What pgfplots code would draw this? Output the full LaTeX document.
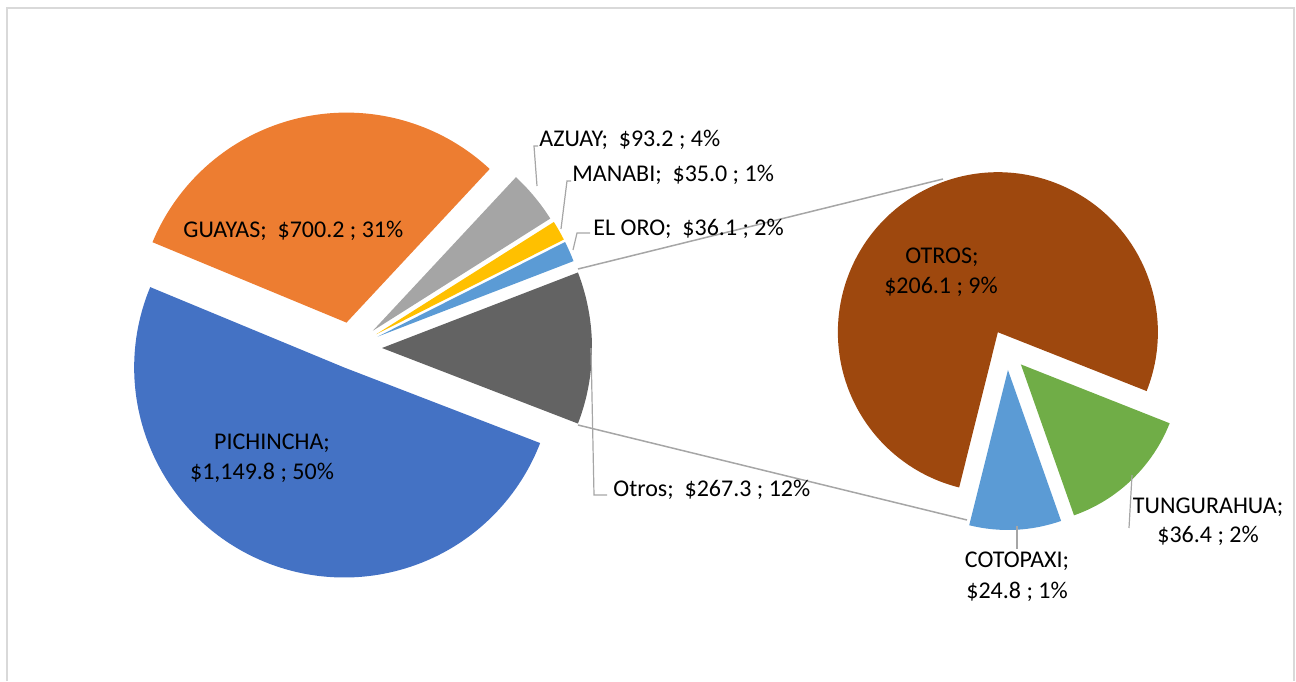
\documentclass[border=0pt]{standalone}
\usepackage{pgfplots}
\usepackage{pgfplotstable}
\pgfplotsset{compat=1.18}
\usepackage{fontspec}
\setmainfont{Carlito}

\definecolor{cPich}{HTML}{4472C4}
\definecolor{cGuay}{HTML}{ED7D31}
\definecolor{cAzua}{HTML}{A5A5A5}
\definecolor{cMana}{HTML}{FFC000}
\definecolor{cOro}{HTML}{5B9BD5}
\definecolor{cOtros}{HTML}{636363}
\definecolor{cBrown}{HTML}{9E480E}
\definecolor{cTung}{HTML}{70AD47}
\definecolor{cCoto}{HTML}{5B9BD5}
\definecolor{leader}{HTML}{A6A6A6}
\definecolor{frame}{HTML}{D9D9D9}

% main pie, counterclockwise from the aggregated slice
\pgfplotstableread{
label     value  explode color
Otros     267.3  30      cOtros
ElOro     36.1   28      cOro
Manabi    35.0   28      cMana
Azuay     93.2   27      cAzua
Guayas    700.2  26      cGuay
Pichincha 1149.8 21      cPich
}\maintable

% second pie (split of Otros)
\pgfplotstableread{
label      value explode color
Cotopaxi   24.8  20      cCoto
Tungurahua 36.4  20      cTung
OTROS      206.1 20      cBrown
}\subtable

% angles from the values: #1 table, #2 prefix, #3 last row, #4 start angle
\newcommand\piesetup[4]{%
  \xdef\pietotal{0}%
  \pgfplotsforeachungrouped \i in {0,...,#3}{%
    \pgfplotstablegetelem{\i}{value}\of#1%
    \pgfmathparse{\pietotal+\pgfplotsretval}\xdef\pietotal{\pgfmathresult}}%
  \pgfplotstablegetelem{0}{value}\of#1\let\piefirst\pgfplotsretval
  \pgfmathparse{#4}\xdef\pieangle{\pgfmathresult}%
  \pgfplotsforeachungrouped \i in {0,...,#3}{%
    \pgfplotstablegetelem{\i}{value}\of#1%
    \pgfmathparse{\pieangle+\pgfplotsretval/\pietotal*360}\let\pieend\pgfmathresult
    \expandafter\xdef\csname #2a\i\endcsname{\pieangle}%
    \expandafter\xdef\csname #2b\i\endcsname{\pieend}%
    \xdef\pieangle{\pieend}%
    \pgfplotstablegetelem{\i}{explode}\of#1%
    \expandafter\xdef\csname #2d\i\endcsname{\pgfplotsretval}%
    \pgfplotstablegetelem{\i}{color}\of#1%
    \expandafter\xdef\csname #2c\i\endcsname{\pgfplotsretval}}%
}
\piesetup{\maintable}{main}{5}{-\piefirst/\pietotal*180}
\piesetup{\subtable}{sub}{2}{-104}

% one slice: prefix, row, centre x, centre y, radius (px)
\newcommand\pieslice[5]{%
  \edef\temp{\noexpand\fill[\csname #1c#2\endcsname]
    (axis cs:#3,#4) ++({(\csname #1a#2\endcsname+\csname #1b#2\endcsname)/2}:\csname #1d#2\endcsname*0.5pt)
    -- ++(\csname #1a#2\endcsname:#5*0.5pt)
    arc[start angle=\csname #1a#2\endcsname, end angle=\csname #1b#2\endcsname, radius=#5*0.5pt] -- cycle;}%
  \temp}

\tikzset{lbl/.style={font=\fontsize{12}{15}\selectfont, inner sep=0pt, text=black}}

\begin{document}
\begin{tikzpicture}
\begin{axis}[
    scale only axis,
    width=648pt, height=340.5pt,
    xmin=0, xmax=1296, ymin=0, ymax=681,
    y dir=reverse,
    hide axis, clip=false,
]
\draw[frame, line width=1pt] (axis cs:6.5,681) -- (axis cs:6.5,7.5) -- (axis cs:1293.5,7.5) -- (axis cs:1293.5,681);

\pgfplotsinvokeforeach{0,...,5}{\pieslice{main}{#1}{352}{348}{210}}
\pgfplotsinvokeforeach{0,...,2}{\pieslice{sub}{#1}{1007}{350}{160}}

% connector lines
\draw[leader, line width=0.75pt] (axis cs:578,269) -- (axis cs:943,179);
\draw[leader, line width=0.75pt] (axis cs:578,425) -- (axis cs:967,520);

% leader lines
\draw[leader, line width=0.6pt] (axis cs:537,186) -- (axis cs:534,146) -- (axis cs:538,146);
\draw[leader, line width=0.6pt] (axis cs:561,229) -- (axis cs:567,181) -- (axis cs:571,181);
\draw[leader, line width=0.6pt] (axis cs:573,250) -- (axis cs:577,233) -- (axis cs:590,233);
\draw[leader, line width=0.6pt] (axis cs:591,348) -- (axis cs:594,495) -- (axis cs:607,495);
\draw[leader, line width=0.6pt] (axis cs:1132,475) -- (axis cs:1129,528);
\draw[leader, line width=0.6pt] (axis cs:1017,526) -- (axis cs:1017,549);

% labels
\node[lbl, anchor=base west] at (axis cs:539,146) {AZUAY;~~\$93.2 ; 4\%};
\node[lbl, anchor=base west] at (axis cs:572,181) {MANABI;~~\$35.0 ; 1\%};
\node[lbl, anchor=base west] at (axis cs:593,235) {EL ORO;~~\$36.1 ; 2\%};
\node[lbl, anchor=base west] at (axis cs:183,237) {GUAYAS;~~\$700.2 ; 31\%};
\node[lbl, anchor=base] at (axis cs:272,449) {PICHINCHA;};
\node[lbl, anchor=base] at (axis cs:262,479) {\$1,149.8 ; 50\%};
\node[lbl, anchor=base west] at (axis cs:613,496) {Otros;~~\$267.3 ; 12\%};
\node[lbl, anchor=base] at (axis cs:942,263) {OTROS;};
\node[lbl, anchor=base] at (axis cs:941,293) {\$206.1 ; 9\%};
\node[lbl, anchor=base] at (axis cs:1208,513) {TUNGURAHUA;};
\node[lbl, anchor=base] at (axis cs:1208,542) {\$36.4 ; 2\%};
\node[lbl, anchor=base] at (axis cs:1017,567) {COTOPAXI;};
\node[lbl, anchor=base] at (axis cs:1017,598) {\$24.8 ; 1\%};
\end{axis}
\pgfresetboundingbox
\path[use as bounding box] (0,0) rectangle (648pt,340.5pt);
\end{tikzpicture}
\end{document}
